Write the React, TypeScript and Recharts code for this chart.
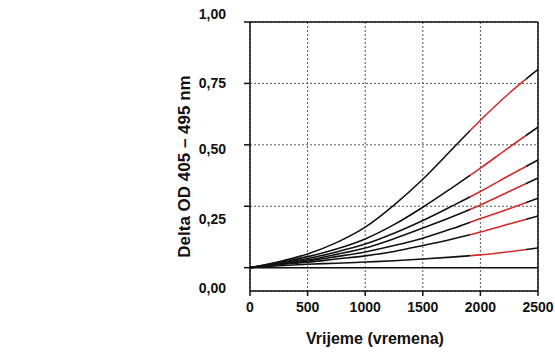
import { LineChart, Line, XAxis, YAxis, CartesianGrid, ReferenceLine } from "recharts";

const times = [0, 250, 500, 750, 1000, 1250, 1500, 1750, 2000, 2250, 2500];

const s1 = [0, 0.024, 0.056, 0.102, 0.165, 0.255, 0.36, 0.48, 0.6, 0.71, 0.807];
const s2 = [0, 0.021, 0.045, 0.076, 0.117, 0.175, 0.246, 0.324, 0.405, 0.49, 0.572];
const s3 = [0, 0.018, 0.037, 0.064, 0.096, 0.14, 0.192, 0.25, 0.31, 0.375, 0.438];
const s4 = [0, 0.016, 0.031, 0.054, 0.08, 0.118, 0.161, 0.206, 0.255, 0.31, 0.365];
const s5 = [0, 0.014, 0.027, 0.045, 0.064, 0.09, 0.12, 0.158, 0.2, 0.24, 0.283];
const s6 = [0, 0.012, 0.022, 0.035, 0.048, 0.066, 0.09, 0.116, 0.145, 0.178, 0.21];
const s7 = [0, 0.008, 0.014, 0.018, 0.023, 0.028, 0.035, 0.043, 0.052, 0.065, 0.08];

const series = [s1, s2, s3, s4, s5, s6, s7];
const keys = ["s1", "s2", "s3", "s4", "s5", "s6", "s7"];

const xTicks = [0, 500, 1000, 1500, 2000, 2500];
const yTicks = [0, 0.25, 0.5, 0.75, 1];
const yTickLabels = ["0,00", "0,25", "0,50", "0,75", "1,00"];
// labels in the original sit a bit off their tick marks
const yLabelShift = [20, 13, 4, 0, -8];

const data = times.map((t, i) => {
  const row: Record<string, number> = { t };
  keys.forEach((k, j) => (row[k] = series[j][i]));
  return row;
});

const font = "'Liberation Sans', Arial, sans-serif";

const YTick = (props: any) => {
  const { x, y, payload } = props;
  const idx = yTicks.indexOf(payload.value);
  return (
    <text
      x={x}
      y={y + (yLabelShift[idx] ?? 0)}
      dy="0.35em"
      textAnchor="end"
      fontFamily={font}
      fontWeight="bold"
      fontSize={14}
      fill="#111"
    >
      {yTickLabels[idx]}
    </text>
  );
};

export default function App() {
  return (
    <div style={{ position: "absolute", left: 0, top: 0 }}>
      <LineChart
        width={555}
        height={352}
        data={data}
        margin={{ top: 22, right: 17, bottom: 11, left: 106 }}
      >
        <defs>
          <linearGradient id="seg" x1="0" y1="0" x2="1" y2="0">
            <stop offset="0" stopColor="#111" />
            <stop offset="0.764" stopColor="#111" />
            <stop offset="0.764" stopColor="#d42a2a" />
            <stop offset="0.96" stopColor="#d42a2a" />
            <stop offset="0.96" stopColor="#111" />
            <stop offset="1" stopColor="#111" />
          </linearGradient>
        </defs>
        <CartesianGrid stroke="#555" strokeDasharray="2 2" strokeWidth={1} />
        <XAxis
          dataKey="t"
          type="number"
          domain={[0, 2500]}
          ticks={xTicks}
          height={50}
          stroke="#111"
          strokeWidth={1.5}
          tickSize={5}
          tickMargin={6}
          tick={{ fontFamily: font, fontWeight: "bold", fontSize: 14, fill: "#111" }}
          label={{
            content: (p: any) => (
              <text
                x={p.viewBox.x + p.viewBox.width / 2 - 19}
                y={338}
                dy="0.35em"
                textAnchor="middle"
                fontFamily={font}
                fontWeight="bold"
                fontSize={16}
                fill="#111"
              >
                Vrijeme (vremena)
              </text>
            ),
          }}
        />
        <YAxis
          type="number"
          domain={[-0.095, 1]}
          ticks={yTicks}
          width={144}
          stroke="#111"
          strokeWidth={1.5}
          tickSize={6}
          tickMargin={18}
          tick={<YTick />}
          label={{
            content: (p: any) => {
              const cx = 184;
              const cy = p.viewBox.y + p.viewBox.height / 2 + 10;
              return (
                <text
                  x={cx}
                  y={cy}
                  dy="0.35em"
                  textAnchor="middle"
                  transform={`rotate(-90, ${cx}, ${cy})`}
                  fontFamily={font}
                  fontWeight="bold"
                  fontSize={17}
                  fill="#111"
                >
                  Delta OD 405 – 495 nm
                </text>
              );
            },
          }}
        />
        <ReferenceLine y={1} stroke="#111" strokeWidth={1.5} />
        <ReferenceLine x={2500} stroke="#111" strokeWidth={1.5} />
        <ReferenceLine y={0} stroke="#111" strokeWidth={1.5} />
        {keys.map((k) => (
          <Line
            key={k}
            type="monotone"
            dataKey={k}
            stroke="url(#seg)"
            strokeWidth={1.6}
            dot={false}
            isAnimationActive={false}
          />
        ))}
      </LineChart>
    </div>
  );
}
